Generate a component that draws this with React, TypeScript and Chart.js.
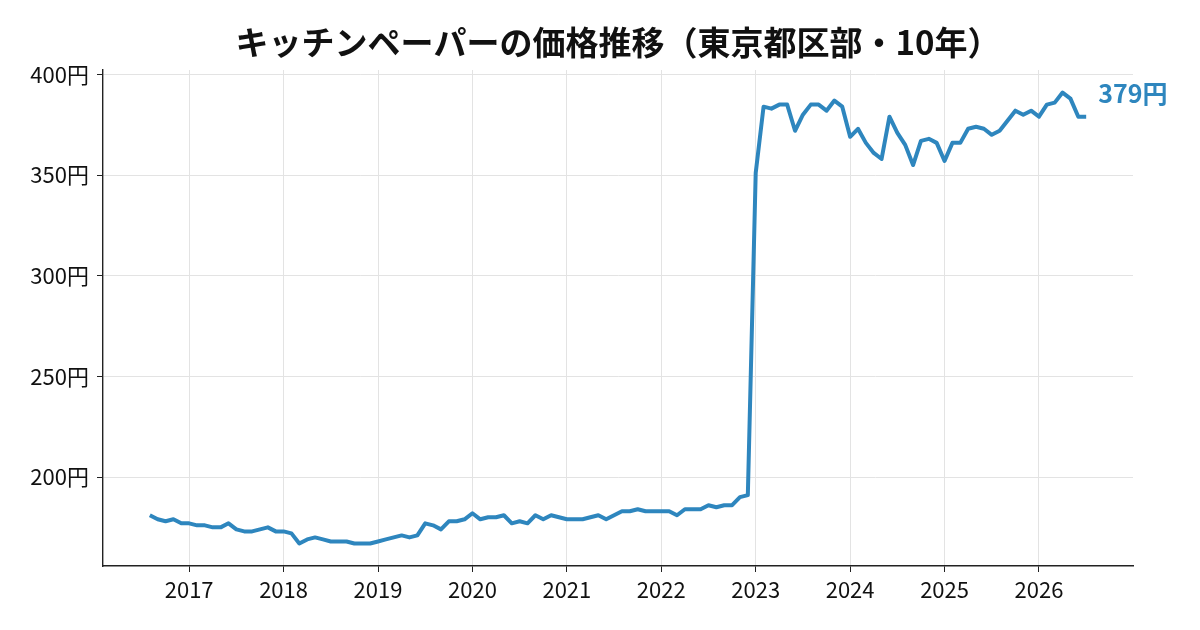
import { useEffect, useRef } from 'react';
import { Chart, registerables } from 'chart.js';

Chart.register(...registerables);

// Monthly prices (円), Aug 2016 – Jul 2026
const startYear = 2016;
const startMonthIndex = 7; // August (0-based)
const prices2016 = [181, 179, 178, 179, 177];
const prices2017 = [177, 176, 176, 175, 175, 177, 174, 173, 173, 174, 175, 173];
const prices2018 = [173, 172, 167, 169, 170, 169, 168, 168, 168, 167, 167, 167];
const prices2019 = [168, 169, 170, 171, 170, 171, 177, 176, 174, 178, 178, 179];
const prices2020 = [182, 179, 180, 180, 181, 177, 178, 177, 181, 179, 181, 180];
const prices2021 = [179, 179, 179, 180, 181, 179, 181, 183, 183, 184, 183, 183];
const prices2022 = [183, 183, 181, 184, 184, 184, 186, 185, 186, 186, 190, 191];
const prices2023 = [351, 384, 383, 385, 385, 372, 380, 385, 385, 382, 387, 384];
const prices2024 = [369, 373, 366, 361, 358, 379, 371, 365, 355, 367, 368, 366];
const prices2025 = [357, 366, 366, 373, 374, 373, 370, 372, 377, 382, 380, 382];
const prices2026 = [379, 385, 386, 391, 388, 379, 379];

const yTicks = [200, 250, 300, 350, 400];
const xTicks = [2017, 2018, 2019, 2020, 2021, 2022, 2023, 2024, 2025, 2026];

const titleText = 'キッチンペーパーの価格推移（東京都区部・10年）';
const lineColor = '#2E86BE';
const FONT = "'Noto Sans CJK JP', 'Noto Sans', sans-serif";

const allPrices = [
  ...prices2016, ...prices2017, ...prices2018, ...prices2019, ...prices2020,
  ...prices2021, ...prices2022, ...prices2023, ...prices2024, ...prices2025, ...prices2026,
];

export default function App() {
  const canvasRef = useRef<HTMLCanvasElement | null>(null);

  useEffect(() => {
    document.body.style.margin = '0';
    const canvas = canvasRef.current;
    if (!canvas) return;

    const points = allPrices.map((v, i) => ({ x: startYear + (startMonthIndex + i) / 12, y: v }));
    const xs = points.map((p) => p.x);
    const ys = points.map((p) => p.y);
    const xMinD = Math.min(...xs), xMaxD = Math.max(...xs);
    const yMinD = Math.min(...ys), yMaxD = Math.max(...ys);
    const xm = (xMaxD - xMinD) * 0.05;
    const ym = (yMaxD - yMinD) * 0.05;

    const overlay = {
      id: 'overlay',
      afterDraw(chart: any) {
        const ctx = chart.ctx;
        const area = chart.chartArea;
        ctx.save();
        ctx.fillStyle = '#111';
        ctx.font = `bold 33px ${FONT}`;
        ctx.textAlign = 'center';
        ctx.textBaseline = 'alphabetic';
        ctx.fillText(titleText, (area.left + area.right) / 2, 55);

        const last = points[points.length - 1];
        const px = chart.scales.x.getPixelForValue(last.x);
        const py = chart.scales.y.getPixelForValue(last.y);
        ctx.fillStyle = lineColor;
        ctx.font = `bold 25px ${FONT}`;
        ctx.textAlign = 'left';
        ctx.fillText(`${last.y}円`, px + 12, py - 14);
        ctx.restore();
      },
    };

    const chart = new Chart(canvas, {
      type: 'line',
      data: {
        datasets: [
          {
            data: points,
            borderColor: lineColor,
            borderWidth: 4,
            pointRadius: 0,
            tension: 0,
            fill: false,
            borderJoinStyle: 'round',
            borderCapStyle: 'butt',
          },
        ],
      },
      options: {
        responsive: false,
        animation: false,
        devicePixelRatio: 1,
        layout: { padding: { top: 70, right: 67, left: 0, bottom: 0 } },
        plugins: { legend: { display: false }, tooltip: { enabled: false }, title: { display: false } },
        scales: {
          x: {
            type: 'linear',
            min: xMinD - xm,
            max: xMaxD + xm,
            afterBuildTicks: (scale: any) => {
              scale.ticks = xTicks.map((v) => ({ value: v }));
            },
            afterFit: (scale: any) => {
              scale.height = 64;
            },
            ticks: {
              autoSkip: false,
              maxRotation: 0,
              color: '#111',
              font: { family: FONT, size: 22 },
              padding: 4,
              callback: (v: any) => String(v),
            },
            grid: { color: '#e3e3e3', lineWidth: 1, drawTicks: true, tickLength: 6, tickColor: '#222' },
            border: { display: true, color: '#222', width: 1.4 },
          },
          y: {
            type: 'linear',
            min: yMinD - ym,
            max: yMaxD + ym,
            afterBuildTicks: (scale: any) => {
              scale.ticks = yTicks.map((v) => ({ value: v }));
            },
            afterFit: (scale: any) => {
              scale.width = 103;
            },
            ticks: {
              autoSkip: false,
              color: '#111',
              font: { family: FONT, size: 22 },
              padding: 8,
              callback: (v: any) => `${v}円`,
            },
            grid: { color: '#e3e3e3', lineWidth: 1, drawTicks: true, tickLength: 6, tickColor: '#222' },
            border: { display: true, color: '#222', width: 1.4 },
          },
        },
      },
      plugins: [overlay],
    });

    return () => chart.destroy();
  }, []);

  return (
    <div style={{ width: 1200, height: 630, background: '#fff' }}>
      <canvas ref={canvasRef} width={1200} height={630} style={{ display: 'block' }} />
    </div>
  );
}
